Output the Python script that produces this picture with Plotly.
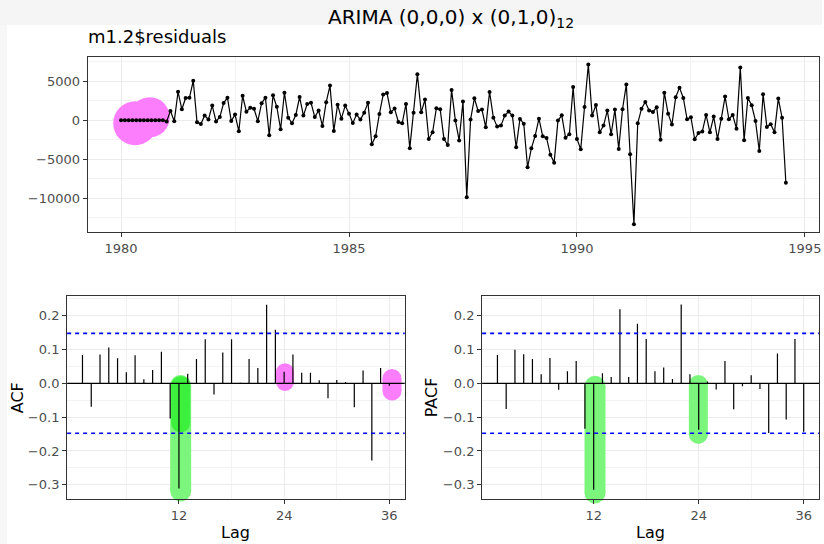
import numpy as np
import plotly.graph_objects as go

# ---------------- data ----------------
START_YEAR = 1980
FREQ = 12
resid = [
    0, 0, 0, 0, 0, 0, 0, 0, 0, 0, 0, 0,
    -150, 1200, -130, 3650, 1410, 2860, 2880, 5060, -260, -490, 600, 100,
    1880, -150, 430, 2200, 2900, -90, 730, -1400, 3140, 1090, 1600, 1480,
    -110, 2180, 2900, -1920, 3200, 1720, -1150, 3520, 340, -384, 680, 2970,
    600, 2090, 2240, 410, 1260, -720, 2320, 4440, -1370, 2000, 210, 1880,
    850, -340, 730, 85, 980, 2260, -3070, -2050, 810, 3290, 3500, 1020,
    1500, -210, -380, 2090, -3590, 980, 5890, 1020, 2650, -2390, -1540, 1540,
    1410, -2390, -3160, 3890, -40, -2580, 2390, -9860, 85, 2820, 1200, 1370,
    -900, 3630, 340, -810, -680, 600, 1110, 600, -3460, 170, -430, -6020,
    -3590, -2000, 210, -2050, -2260, -4400, -5420, -40, 640, -2220, -1790, 4270,
    -2390, -3710, 1710, 7130, 600, 1960, -1540, -680, 1240, -1790, 1370, -3670,
    1410, 4590, -4350, -13320, -380, 1490, 2350, 1240, 1070, 1670, -2480, 3540,
    850, -555, 2950, 4180, 2860, 130, 380, -2430, -1620, -1450, 680, -1540,
    470, -2390, 210, 3030, 130, 680, -1070, 6750, -2560, 2860, 1920, -85,
    -3930, 3330, -850, -510, -1540, 2780, 340, -7990,
]
lags = list(range(1, 37))
acf_vals = [
    0.084, -0.069, 0.085, 0.106, 0.074, 0.033, 0.083, 0.012, 0.039, 0.093,
    -0.104, -0.311, 0.028, 0.072, 0.130, -0.033, 0.091, 0.130, 0.002, 0.072,
    0.045, 0.232, 0.158, 0.034, 0.085, 0.031, 0.031, 0.009, -0.044, 0.010,
    0.004, -0.071, 0.038, -0.228, 0.045, -0.007,
]
pacf_vals = [
    0.084, -0.076, 0.099, 0.086, 0.072, 0.027, 0.075, -0.019, 0.036, 0.066,
    -0.134, -0.315, 0.030, 0.019, 0.219, 0.019, 0.176, 0.131, 0.036, 0.047,
    0.013, 0.233, 0.027, -0.137, 0.005, -0.018, 0.066, -0.077, -0.009, 0.024,
    -0.017, -0.147, 0.088, -0.107, 0.131, -0.143,
]
title_text = "m1.2$residuals"
note_text = "ARIMA (0,0,0) x (0,1,0)<sub>12</sub>"
ts_xticks = [1980, 1985, 1990, 1995]
ts_xminor = [1982.5, 1987.5, 1992.5]
ts_yticks = [-10000, -5000, 0, 5000]
ts_yticktext = ["\u221210000", "\u22125000", "0", "5000"]
ts_yminor = [-12500, -7500, -2500, 2500, 7500]
cf_xticks = [12, 24, 36]
cf_xminor = [6, 18, 30]
cf_yticks = [-0.3, -0.2, -0.1, 0.0, 0.1, 0.2]
cf_yticktext = ["\u22120.3", "\u22120.2", "\u22120.1", "0.0", "0.1", "0.2"]
cf_yminor = [-0.25, -0.15, -0.05, 0.05, 0.15, 0.25]

# ---------------- highlighter marks (annotation overlay) ----------------
PINK = "#fd7efd"
GREEN = "#7cf57c"
GREEN_DARK = "#3ef03e"
blob_top = dict(x=[1980.31, 1980.63], y=[-380, 381], size=[44, 40])
acf_marks = [  # (lag, y_from, y_to, width, colour)
    (12.2, -0.0065, -0.318, 21, GREEN),
    (12.2, -0.0065, -0.117, 19, GREEN_DARK),
    (24.1, 0.033, 0.004, 18, PINK),
    (36.3, 0.014, -0.023, 19, PINK),
]
pacf_marks = [
    (12.15, -0.009, -0.324, 21, GREEN),
    (23.96, -0.0035, -0.151, 19, GREEN),
]

# ---------------- layout helpers ----------------
W, H = 824, 544
def fx(px):
    return px / W
def fy(py):
    return 1 - py / H

FONT = "DejaVu Sans, Verdana, sans-serif"
GRID = "#ebebeb"
MINOR = "#f2f2f2"
BORDER = "#333333"
TICKFONT = dict(family=FONT, size=13, color="#4d4d4d")

t = START_YEAR + np.arange(len(resid)) / FREQ
n = len(resid)
ci = 1.96 / np.sqrt(n)

fig = go.Figure()

# pink blob under the first-year residuals
fig.add_trace(go.Scatter(
    x=blob_top["x"], y=blob_top["y"], mode="markers",
    marker=dict(size=blob_top["size"], color=PINK, opacity=1, line=dict(width=0)),
    xaxis="x", yaxis="y", hoverinfo="skip", cliponaxis=False, showlegend=False))

fig.add_trace(go.Scatter(
    x=t, y=resid, mode="lines+markers",
    line=dict(color="black", width=1.2),
    marker=dict(size=4, color="black"),
    xaxis="x", yaxis="y", showlegend=False))

def add_marks(marks, xa, ya):
    for lag, y0, y1, w, col in marks:
        fig.add_trace(go.Scatter(
            x=[lag, lag], y=[y0, y1], mode="lines+markers",
            line=dict(color=col, width=w),
            marker=dict(size=w, color=col, opacity=1, line=dict(width=0)),
            xaxis=xa, yaxis=ya, cliponaxis=False, hoverinfo="skip",
            showlegend=False))

def add_bars(vals, xa, ya):
    xs, ys = [], []
    for lag, v in zip(lags, vals):
        xs += [lag, lag, None]
        ys += [0, v, None]
    fig.add_trace(go.Scatter(
        x=xs, y=ys, mode="lines", line=dict(color="black", width=1.2),
        xaxis=xa, yaxis=ya, showlegend=False))

add_marks(acf_marks, "x2", "y2")
add_bars(acf_vals, "x2", "y2")
add_marks(pacf_marks, "x3", "y3")
add_bars(pacf_vals, "x3", "y3")

shapes = [
    dict(type="rect", xref="paper", yref="paper", x0=0, x1=1, y0=fy(25), y1=1,
         fillcolor="#f5f5f5", line=dict(width=0), layer="below"),
    dict(type="rect", xref="paper", yref="paper", x0=0, x1=fx(7), y0=0, y1=fy(25),
         fillcolor="#f7f7f7", line=dict(width=0), layer="below"),
]
for xa, ya in (("x2", "y2"), ("x3", "y3")):
    for lv in (ci, -ci):
        shapes.append(dict(type="line", xref=f"{xa} domain", yref=ya, x0=0, x1=1,
                           y0=lv, y1=lv, line=dict(color="#0000ff", width=1.6, dash="4px,4px")))
    shapes.append(dict(type="line", xref=f"{xa} domain", yref=ya, x0=0, x1=1,
                       y0=0, y1=0, line=dict(color="black", width=1.2)))

def axis_style(**kw):
    d = dict(showline=True, mirror=True, linecolor=BORDER, linewidth=1.2,
             ticks="outside", ticklen=4, tickcolor=BORDER, tickwidth=1,
             showgrid=True, gridcolor=GRID, gridwidth=1.1, zeroline=False,
             tickfont=TICKFONT, fixedrange=True)
    d.update(kw)
    return d

def minor(vals):
    return dict(tickvals=vals, showgrid=True, gridcolor=MINOR, gridwidth=0.6, ticks="")

layout = dict(
    width=W, height=H, margin=dict(l=0, r=0, t=0, b=0),
    paper_bgcolor="white", plot_bgcolor="white",
    font=dict(family=FONT, color="black"),
    shapes=shapes,
    xaxis=axis_style(domain=[fx(88), fx(821)], range=[1979.27, 1995.31],
                     tickvals=ts_xticks, anchor="y", minor=minor(ts_xminor)),
    yaxis=axis_style(domain=[fy(232), fy(57)], range=[-14300, 8100],
                     tickvals=ts_yticks, ticktext=ts_yticktext, anchor="x",
                     minor=minor(ts_yminor)),
    xaxis2=axis_style(domain=[fx(67.3), fx(405.7)], range=[-0.75, 37.75],
                      tickvals=cf_xticks, anchor="y2", minor=minor(cf_xminor)),
    yaxis2=axis_style(domain=[fy(499), fy(295.7)], range=[-0.342, 0.259],
                      tickvals=cf_yticks, ticktext=cf_yticktext, anchor="x2",
                      minor=minor(cf_yminor)),
    xaxis3=axis_style(domain=[fx(483.3), fx(821)], range=[-0.75, 37.75],
                      tickvals=cf_xticks, anchor="y3", minor=minor(cf_xminor)),
    yaxis3=axis_style(domain=[fy(499), fy(295.7)], range=[-0.342, 0.259],
                      tickvals=cf_yticks, ticktext=cf_yticktext, anchor="x3",
                      minor=minor(cf_yminor)),
    annotations=[
        dict(text=title_text, xref="paper", yref="paper", x=fx(86), y=fy(37),
             xanchor="left", yanchor="middle", showarrow=False,
             font=dict(family=FONT, size=18, color="black")),
        dict(text=note_text, xref="paper", yref="paper", x=fx(452), y=fy(18),
             xanchor="center", yanchor="middle", showarrow=False,
             font=dict(family=FONT, size=20, color="black")),
        dict(text="ACF", xref="paper", yref="paper", x=fx(17), y=fy(397.3),
             xanchor="center", yanchor="middle", textangle=-90, showarrow=False,
             font=dict(family=FONT, size=16, color="black")),
        dict(text="PACF", xref="paper", yref="paper", x=fx(432), y=fy(397.3),
             xanchor="center", yanchor="middle", textangle=-90, showarrow=False,
             font=dict(family=FONT, size=16, color="black")),
        dict(text="Lag", xref="paper", yref="paper", x=fx(236.5), y=fy(532),
             xanchor="center", yanchor="middle", showarrow=False,
             font=dict(family=FONT, size=16, color="black")),
        dict(text="Lag", xref="paper", yref="paper", x=fx(652.2), y=fy(532),
             xanchor="center", yanchor="middle", showarrow=False,
             font=dict(family=FONT, size=16, color="black")),
    ],
)
fig.update_layout(**layout)
fig.write_html("out.html")
